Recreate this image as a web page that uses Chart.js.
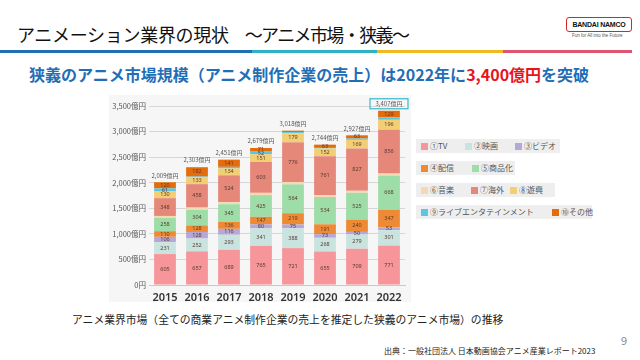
<!DOCTYPE html>
<html><head><meta charset="utf-8">
<script src="https://cdn.jsdelivr.net/npm/chart.js@4/dist/chart.umd.min.js"></script>
<style>
html,body{margin:0;padding:0;background:#fff;}
body{width:640px;height:360px;position:relative;overflow:hidden;font-family:"Noto Sans CJK JP","Noto Sans",sans-serif;}
.abs{position:absolute;white-space:nowrap;}
#title{left:17px;top:22px;font-size:18px;color:#111;line-height:24px;letter-spacing:-0.3px;}
#title .t2{margin-left:16px;letter-spacing:-1.6px;}
#bar{left:0;top:50px;height:3px;width:632px;display:flex;}
#bar div{height:3px;}
#sub{left:29px;top:63px;font-size:16px;font-weight:700;color:#1F6EB6;line-height:22px;}
#sub span{color:#E8141B;}
#logo{left:566px;top:17px;width:64px;height:13px;border:1.5px solid #D7262B;border-radius:3px;font-size:7px;font-weight:700;color:#111;text-align:center;line-height:13px;font-family:"Liberation Sans",sans-serif;letter-spacing:-0.2px;}
#tag{left:572px;top:33px;font-size:4.5px;color:#555;font-family:"Liberation Sans",sans-serif;}
#panel{left:109px;top:95px;width:302px;height:207px;background:#f6f6f6;}
#wrap{left:108px;top:95px;width:305px;height:208px;}
#cap{left:72px;top:311px;font-size:10.8px;color:#222;line-height:16px;}
#src{left:384px;top:345px;font-size:8px;color:#222;line-height:11px;}
#page{left:621px;top:332px;font-size:11px;color:#888;}
.lrow{position:absolute;height:14px;background:#eeeeee;}
.litem{position:absolute;font-size:8px;color:#555;line-height:14px;white-space:nowrap;}
.lsq{display:inline-block;width:7px;height:7px;margin-right:2px;vertical-align:-0.5px;}
</style></head>
<body>
<div id="title" class="abs">アニメーション業界の現状<span class="t2">～アニメ市場・狭義～</span></div>
<div id="bar" class="abs"><div style="width:252px;background:#1F6EB6"></div><div style="width:125px;background:#2BB3C3"></div><div style="width:126px;background:#F2B91E"></div><div style="width:129px;background:#DE5572"></div></div>
<div id="logo" class="abs">BANDAI NAMCO</div>
<div id="tag" class="abs">Fun for All into the Future</div>
<div id="sub" class="abs">狭義のアニメ市場規模（アニメ制作企業の売上）は2022年に<span>3,400億円</span>を突破</div>
<div id="panel" class="abs"></div>
<div id="wrap" class="abs"><canvas id="c" width="305" height="208"></canvas></div>
<div id="legend"></div>
<div id="cap" class="abs">アニメ業界市場（全ての商業アニメ制作企業の売上を推定した狭義のアニメ市場）の推移</div>
<div id="src" class="abs">出典：一般社団法人 日本動画協会アニメ産業レポート2023</div>
<div id="page" class="abs">9</div>
<script>
const years = ['2015','2016','2017','2018','2019','2020','2021','2022'];
const seriesNames = ['①TV','②映画','③ビデオ','④配信','⑤商品化','⑥音楽','⑦海外','⑧遊興','⑨ライブエンタテインメント','⑩その他'];
const tv      = [605, 657, 689, 765, 721, 655, 709, 771];
const movie   = [231, 252, 293, 341, 388, 268, 279, 301];
const video   = [106, 128, 116,  80,  75,  73,  50,  53];
const stream  = [110, 128, 136, 147, 219, 191, 240, 347];
const merch   = [258, 304, 345, 425, 564, 534, 525, 668];
const music   = [ 40,  45,  42,  44,  47,  36,  39,  38];
const overseas= [348, 458, 524, 603, 776, 761, 827, 856];
const amuse   = [130, 133, 134, 151, 179, 152, 169, 196];
const live    = [ 61,  16,  31,  52,  21,  11,  26,  48];
const other   = [120, 182, 141,  71,  28,  63,  63, 129];
const totalLabels = ['2,009億円','2,303億円','2,451億円','2,679億円','3,018億円','2,744億円','2,927億円','3,407億円'];
const yTicks = [0,500,1000,1500,2000,2500,3000,3500];

const seriesData = [tv, movie, video, stream, merch, music, overseas, amuse, live, other];
const colors = ['#F6959A','#C9E4DE','#B5A8D6','#EE8A34','#9EDCA8','#F6D8B2','#E5887A','#F3CF73','#5CC6E0','#E46C0A'];

const datasets = seriesNames.map((n,i)=>({label:n,data:seriesData[i],backgroundColor:colors[i],stack:'s',barPercentage:0.68,categoryPercentage:1.0,borderWidth:0}));

const labelPlugin = {
  id:'labels',
  afterDatasetsDraw(chart){
    const ctx = chart.ctx;
    ctx.save();
    ctx.textAlign='center';ctx.textBaseline='middle';
    ctx.font='5.5px "Noto Sans", sans-serif';
    ctx.fillStyle='#5a3a30';
    chart.data.datasets.forEach((ds,di)=>{
      const meta = chart.getDatasetMeta(di);
      meta.data.forEach((el,i)=>{
        const h = Math.abs(el.base-el.y);
        if(h>=2.5){ ctx.fillText(String(ds.data[i]), el.x, (el.y+el.base)/2); }
      });
    });
    const last = chart.getDatasetMeta(chart.data.datasets.length-1);
    ctx.font='6px "Noto Sans CJK JP", sans-serif';
    ctx.fillStyle='#555';
    last.data.forEach((el,i)=>{
      const y = el.y-7;
      ctx.fillText(totalLabels[i], el.x, y);
      if(i===last.data.length-1){
        ctx.strokeStyle='#3BB8C8';ctx.lineWidth=1.2;
        ctx.strokeRect(el.x-19, y-5, 38, 10);
      }
    });
    ctx.restore();
  }
};

new Chart(document.getElementById('c'),{
  type:'bar',
  data:{labels:years,datasets},
  options:{
    responsive:false,animation:false,
    layout:{padding:{top:11,right:8,bottom:0,left:0}},
    plugins:{legend:{display:false},tooltip:{enabled:false}},
    scales:{
      x:{stacked:true,grid:{display:false},border:{color:'#c8c8c8'},
         ticks:{color:'#333',font:{size:11,weight:'600',family:'"Noto Sans", sans-serif'},padding:-2},
         afterFit(s){s.height=18;}},
      y:{stacked:true,min:0,max:3500,
         afterBuildTicks(s){s.ticks=yTicks.map(v=>({value:v}));},
         grid:{color:'#d6d6d6',drawTicks:false},border:{display:false},
         ticks:{color:'#555',font:{size:7.5,family:'"Noto Sans CJK JP", sans-serif'},padding:3,
                callback:(v)=> v===0?'0円':v.toLocaleString('en-US')+'億円'},
         afterFit(s){s.width=41;}}
    }
  },
  plugins:[labelPlugin]
});

// legend (HTML, built from series names and colours)
const rowLayout = [
  {top:139,width:144,items:[[0,5],[1,49],[2,99]]},
  {top:161,width:99, items:[[3,5],[4,56]]},
  {top:183,width:139,items:[[5,5],[6,55],[7,94]]},
  {top:205,width:176,items:[[8,5],[9,136]]}
];
const lg = document.getElementById('legend');
rowLayout.forEach(r=>{
  const row=document.createElement('div');row.className='lrow';
  row.style.left='416px';row.style.top=r.top+'px';row.style.width=r.width+'px';
  r.items.forEach(([idx,x])=>{
    const it=document.createElement('div');it.className='litem';it.style.left=x+'px';
    const sq=document.createElement('span');sq.className='lsq';sq.style.background=colors[idx];
    it.appendChild(sq);it.appendChild(document.createTextNode(seriesNames[idx]));
    row.appendChild(it);
  });
  lg.appendChild(row);
});
</script>
</body></html>
